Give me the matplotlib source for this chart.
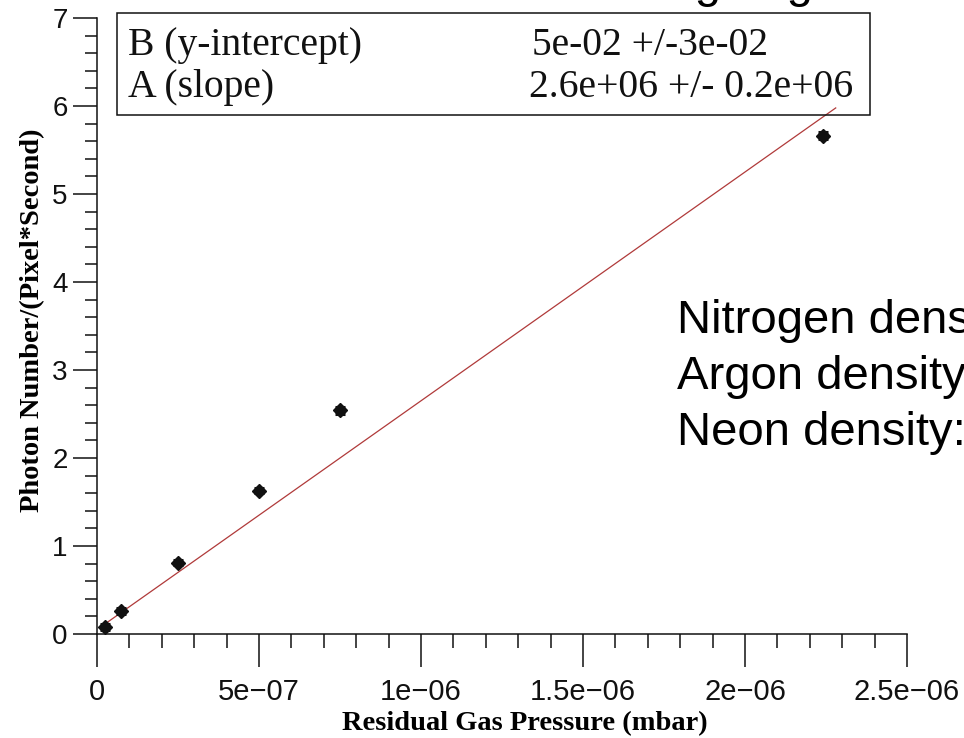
import matplotlib
matplotlib.use("Agg")
import matplotlib.pyplot as plt
from matplotlib.patches import Rectangle
from matplotlib.ticker import MultipleLocator
import numpy as np

# Measured photon rate versus residual gas pressure
pressure = [2.5e-8, 7.5e-8, 2.5e-7, 5.0e-7, 7.5e-7, 2.24e-6]
photons = [0.08, 0.26, 0.81, 1.63, 2.54, 5.66]
photon_err = [0.03, 0.03, 0.03, 0.03, 0.04, 0.04]

# Linear fit y = B + A * x
fit_b = 5e-02
fit_a = 2.6e+06
fit_range = [1.0e-8, 2.28e-6]

x_ticks = [0, 5e-7, 1e-6, 1.5e-6, 2e-6, 2.5e-6]
x_tick_labels = ["0", "5e\u221207", "1e\u221206", "1.5e\u221206", "2e\u221206", "2.5e\u221206"]
y_ticks = [0, 1, 2, 3, 4, 5, 6, 7]

fit_rows = [("B (y-intercept)", "5e-02 +/-3e-02"),
            ("A (slope)", "2.6e+06 +/- 0.2e+06")]
side_lines = ["Nitrogen density", "Argon density", "Neon density:"]

W, H = 964, 738
fig = plt.figure(figsize=(W / 100, H / 100), dpi=100)
fig.patch.set_facecolor("white")


def fx(px):
    return px / W


def fy(py):
    return 1 - py / H


ax = fig.add_axes([fx(97), fy(634), fx(907) - fx(97), fy(18) - fy(634)])
ax.set_xlim(0, 2.5e-6)
ax.set_ylim(0, 7)

ink = "#111111"
for side in ("top", "right"):
    ax.spines[side].set_visible(False)
for side in ("left", "bottom"):
    ax.spines[side].set_linewidth(1.1)
    ax.spines[side].set_color(ink)

ax.set_xticks(x_ticks)
ax.set_xticklabels(x_tick_labels)
ax.set_yticks(y_ticks)
ax.xaxis.set_minor_locator(MultipleLocator(1e-7))
ax.yaxis.set_minor_locator(MultipleLocator(0.2))
ax.tick_params(axis="x", which="major", direction="out", length=24, width=1.1,
               pad=8, labelsize=21, colors=ink)
ax.tick_params(axis="x", which="minor", direction="out", length=10, width=1.1,
               colors=ink)
ax.tick_params(axis="y", which="major", direction="out", length=17, width=1.1,
               pad=4, labelsize=20, colors=ink)
ax.tick_params(axis="y", which="minor", direction="out", length=8.6, width=1.1,
               colors=ink)
for lab in ax.get_xticklabels() + ax.get_yticklabels():
    lab.set_fontfamily("Liberation Sans")

ax.set_xlabel("Residual Gas Pressure (mbar)", fontfamily="Liberation Serif",
              fontweight="bold", fontsize=20.5, va="center")
ax.xaxis.set_label_coords((525 - 97) / 810, -(724 - 634) / 616)
ax.set_ylabel("Photon Number/(Pixel*Second)", fontfamily="Liberation Serif",
              fontweight="bold", fontsize=20.5, va="center")
ax.yaxis.set_label_coords((33 - 97) / 810, (634 - 320) / 616)

# fitted line
xf = np.array(fit_range)
ax.plot(xf, fit_b + fit_a * xf, color="#b03a3a", lw=0.9, zorder=2)

# data points with error bars
ax.errorbar(pressure, photons, yerr=photon_err, fmt="D", color=ink,
            markersize=7, capsize=3.6, capthick=2.2, elinewidth=2.0, zorder=3)

# fit parameter box
box = Rectangle((fx(117), fy(115)), fx(870) - fx(117), fy(13) - fy(115),
                transform=fig.transFigure, fill=False, edgecolor=ink,
                lw=1.1, zorder=5)
fig.patches.append(box)
row_base = [55, 97]
value_x = [532, 529]
for (name, val), py, vx in zip(fit_rows, row_base, value_x):
    fig.text(fx(128), fy(py), name, fontfamily="Liberation Serif", fontsize=28.5,
             va="baseline", ha="left", color=ink)
    fig.text(fx(vx), fy(py), val, fontfamily="Liberation Serif", fontsize=28.5,
             va="baseline", ha="left", color=ink)

# slide text beside the chart
for i, line in enumerate(side_lines):
    fig.text(fx(677), fy(333 + 56 * i), line, fontfamily="Liberation Sans",
             fontsize=34, va="baseline", ha="left", color="#000000")

# heading running off the top edge
fig.text(fx(595), fy(-3), "Nitrogen gas", fontfamily="Liberation Sans",
         fontsize=34, va="baseline", ha="left", color="#000000")

fig.savefig("out.png", dpi=100, facecolor="white")
